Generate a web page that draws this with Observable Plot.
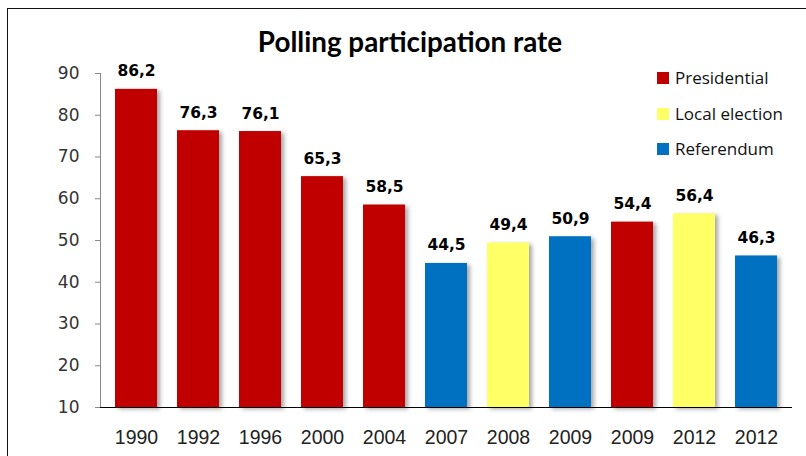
<!DOCTYPE html>
<html>
<head>
<meta charset="utf-8">
<script src="https://cdn.jsdelivr.net/npm/d3@7"></script>
<script src="https://cdn.jsdelivr.net/npm/@observablehq/plot@0.6"></script>
<style>
  html, body { margin: 0; padding: 0; background: #fff; }
  #wrap { position: relative; width: 806px; height: 456px; overflow: hidden; }
  #border { position: absolute; left: 7px; top: 8px; width: 820px; height: 470px;
            border-top: 1.5px solid #111; border-left: 1.5px solid #111; }
  #title { position: absolute; left: 0; top: 24.5px; width: 820px; text-align: center;
           font-family: Lato, sans-serif; font-weight: bold; font-size: 27.8px; color: #000; }
  #chart { position: absolute; left: 0; top: 0; }
  #legend { position: absolute; left: 657px; top: 69px; font-family: "Open Sans", sans-serif;
            font-size: 17px; color: #111; }
  .item { height: 35.5px; display: flex; align-items: flex-start; }
  .sw { width: 12px; height: 12px; margin-right: 6px; margin-top: 3px; }
  .item span { line-height: 18px; }
  .bars rect { filter: drop-shadow(3px 2px 2px rgba(0,0,0,0.35)); }
</style>
</head>
<body>
<div id="wrap">
  <div id="border"></div>
  <div id="chart"></div>
  <div id="title">Polling participation rate</div>
  <div id="legend"></div>
</div>
<script>
const years = ["1990", "1992", "1996", "2000", "2004", "2007", "2008", "2009", "2009", "2012", "2012"];
const values = [86.2, 76.3, 76.1, 65.3, 58.5, 44.5, 49.4, 50.9, 54.4, 56.4, 46.3];
const types = ["Presidential", "Presidential", "Presidential", "Presidential", "Presidential",
               "Referendum", "Local election", "Referendum", "Presidential", "Local election", "Referendum"];
const typeNames = ["Presidential", "Local election", "Referendum"];
const typeColors = ["#C00000", "#FFFF66", "#0070C0"];
const yTicks = [10, 20, 30, 40, 50, 60, 70, 80, 90];

const data = years.map((y, i) => ({i, year: y, value: values[i], type: types[i]}));

const chart = Plot.plot({
  width: 806,
  height: 456,
  marginLeft: 100,
  marginRight: 14,
  marginTop: 73,
  marginBottom: 49,
  style: {background: "transparent", overflow: "visible"},
  x: {domain: d3.range(years.length), paddingInner: 0.33, paddingOuter: 0.165, label: null},
  y: {domain: [10, 90], label: null},
  color: {domain: typeNames, range: typeColors},
  marks: [
    Plot.frame({anchor: "left", stroke: "#888"}),
    Plot.axisY({ticks: yTicks, tickSize: 5, tickPadding: 16, stroke: "#888",
                fontSize: 17, fontFamily: "DejaVu Sans", fill: "#333", label: null}),
    Plot.axisX({tickSize: 0, tickPadding: 23, tickFormat: i => years[i],
                fontSize: 19.5, fontFamily: "Liberation Sans", fill: "#222", label: null}),
    Plot.barY(data, {x: "i", y1: 10, y2: "value", fill: "type", className: "bars"}),
    Plot.ruleY([10], {stroke: "#000", strokeWidth: 1.2}),
    Plot.text(data, {x: "i", y: "value", text: d => String(d.value).replace(".", ","),
                     dy: -13, lineAnchor: "bottom", fontWeight: "bold", fontSize: 15.5,
                     fontFamily: "DejaVu Sans", fill: "#000"})
  ]
});
document.getElementById("chart").appendChild(chart);

const legend = document.getElementById("legend");
typeNames.forEach((n, k) => {
  const it = document.createElement("div");
  it.className = "item";
  const sw = document.createElement("div");
  sw.className = "sw";
  sw.style.background = typeColors[k];
  const t = document.createElement("span");
  t.textContent = n;
  it.appendChild(sw);
  it.appendChild(t);
  legend.appendChild(it);
});
</script>
</body>
</html>
